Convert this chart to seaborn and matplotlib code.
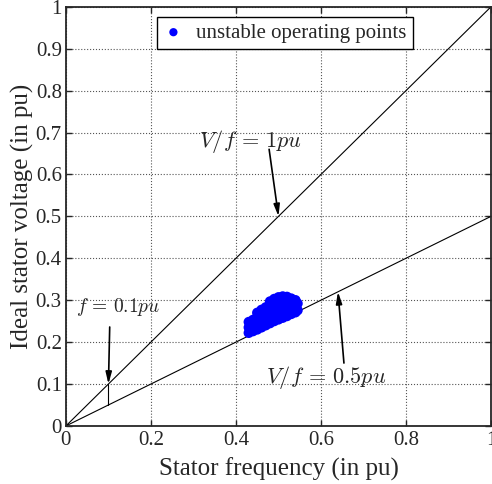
import numpy as np
import pandas as pd
import matplotlib
matplotlib.use('Agg')
import matplotlib.pyplot as plt
import seaborn as sns

# constant V/f lines
line_f = [0.0, 1.0]
line_v_1pu = [0.0, 1.0]
line_v_05pu = [0.0, 0.5]
marker_f = [0.1, 0.1]
marker_v = [0.05, 0.1]

# unstable operating points
unstable_f = [0.43, 0.43, 0.43, 0.44, 0.44, 0.44,
              0.45, 0.45, 0.45, 0.45, 0.46, 0.46, 0.46, 0.46,
              0.47, 0.47, 0.47, 0.47, 0.48, 0.48, 0.48, 0.48, 0.48,
              0.49, 0.49, 0.49, 0.49, 0.49, 0.50, 0.50, 0.50, 0.50, 0.50,
              0.51, 0.51, 0.51, 0.51, 0.51, 0.52, 0.52, 0.52, 0.52, 0.52,
              0.53, 0.53, 0.53, 0.53, 0.54, 0.54, 0.54, 0.545, 0.545]
unstable_v = [0.222, 0.235, 0.248, 0.226, 0.240, 0.253,
              0.230, 0.245, 0.260, 0.270, 0.235, 0.250, 0.265, 0.277,
              0.240, 0.255, 0.270, 0.283, 0.245, 0.260, 0.275, 0.288, 0.297,
              0.250, 0.265, 0.280, 0.293, 0.303, 0.254, 0.268, 0.283, 0.296, 0.307,
              0.258, 0.272, 0.287, 0.300, 0.309, 0.262, 0.276, 0.290, 0.302, 0.308,
              0.267, 0.281, 0.294, 0.304, 0.271, 0.286, 0.300, 0.276, 0.292]

sns.set_style("ticks")
plt.rcParams['font.family'] = ['Liberation Serif', 'DejaVu Serif']
plt.rcParams['mathtext.fontset'] = 'cm'

fig = plt.figure(figsize=(4.92, 4.84), dpi=100)
ax = fig.add_axes([0.134, 0.12, 0.864, 0.866])

pts = pd.DataFrame({'f': unstable_f, 'v': unstable_v})
sns.scatterplot(data=pts, x='f', y='v', ax=ax, color='#0000ff', s=55,
                edgecolor='none', label='unstable operating points', zorder=3)
sns.lineplot(x=line_f, y=line_v_1pu, ax=ax, color='k', lw=0.8)
sns.lineplot(x=line_f, y=line_v_05pu, ax=ax, color='k', lw=0.8)
# lineplot would average the two points with equal x, so plot the marker directly
ax.plot(marker_f, marker_v, color='k', lw=0.8)

# annotations: label text placed separately, arrows drawn from just below/above it
arrow = dict(arrowstyle='-|>,head_width=0.18,head_length=0.7', color='k', lw=1.2,
             shrinkA=0, shrinkB=0)
ax.text(0.435, 0.678, r'$V/f\,=\,1pu$', ha='center', va='center', fontsize=16)
ax.annotate('', xy=(0.5, 0.5), xytext=(0.478, 0.66), arrowprops=arrow)

ax.text(0.612, 0.115, r'$V/f\,=\,0.5pu$', ha='center', va='center', fontsize=16)
ax.annotate('', xy=(0.64, 0.32), xytext=(0.654, 0.15), arrowprops=arrow)

ax.text(0.123, 0.284, r'$f\,=\,0.1pu$', ha='center', va='center', fontsize=14)
ax.annotate('', xy=(0.1, 0.1), xytext=(0.103, 0.236), arrowprops=arrow)

ax.set_xlim(0, 1)
ax.set_ylim(0, 1)
ax.set_xticks([0, 0.2, 0.4, 0.6, 0.8, 1])
ax.set_xticklabels(['0', '0.2', '0.4', '0.6', '0.8', '1'])
ax.set_yticks(np.arange(0, 1.01, 0.1))
ax.set_yticklabels(['0', '0.1', '0.2', '0.3', '0.4', '0.5', '0.6', '0.7', '0.8', '0.9', '1'])
ax.tick_params(direction='in', top=True, right=True, labelsize=15, length=4, width=1)
ax.tick_params(axis='x', pad=4)
ax.tick_params(axis='y', pad=3)
ax.grid(True, linestyle=':', color='#555555', lw=0.8)
for s in ax.spines.values():
    s.set_linewidth(1.3)
    s.set_visible(True)
ax.set_xlabel('Stator frequency (in pu)', fontsize=18, labelpad=5)
ax.set_ylabel('Ideal stator voltage (in pu)', fontsize=18, labelpad=1)

leg = ax.legend(loc='upper center', bbox_to_anchor=(0.515, 0.976), borderaxespad=0,
                fontsize=15, frameon=True, fancybox=False, edgecolor='k', framealpha=1,
                handlelength=1.0, handletextpad=0.6, borderpad=0.3, markerscale=0.8)
leg.get_frame().set_linewidth(1)

fig.savefig('out.png', dpi=100)
